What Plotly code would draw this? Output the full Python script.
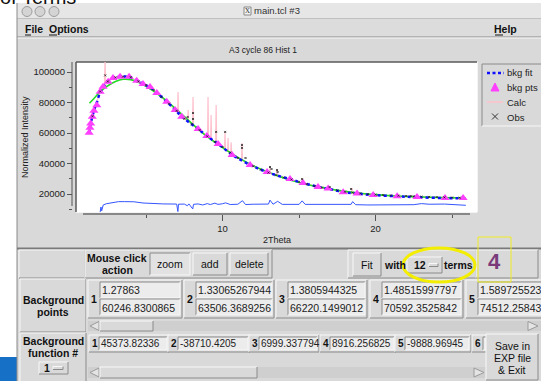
import plotly.graph_objects as go

# ---------------- data ----------------
bkg_pts_x = [1.279, 1.331, 1.381, 1.485, 1.590, 1.78, 2.00, 2.19, 2.52, 2.84, 3.30, 3.89, 4.39,
             4.80, 5.26, 5.70, 6.35, 6.90, 7.33, 8.40, 8.97, 9.71, 10.62, 11.80, 12.91, 14.41,
             15.26, 16.24, 16.90, 17.88, 18.79, 19.84, 21.41, 22.71, 24.54, 25.72]
bkg_pts_y = [60247, 63506, 66220, 70592, 74512, 78200, 87100, 90400, 93600, 96100, 96900, 96900, 94300,
             92100, 90200, 86200, 80500, 75100, 70700, 62600, 58000, 52800, 45500, 39000, 34400, 29800,
             27200, 24600, 23600, 21200, 20400, 19300, 18600, 18000, 17400, 17300]

bkg_fit_x = [1.279, 1.381, 1.590, 1.80, 2.00, 2.25, 2.52, 2.84, 3.30, 3.89, 4.39, 4.80, 5.26, 5.70,
             6.35, 6.90, 7.33, 8.00, 8.40, 8.97, 9.71, 10.62, 11.80, 12.91, 14.41, 15.26, 16.24,
             17.00, 17.88, 18.79, 19.84, 21.41, 22.71, 24.54, 25.90]
bkg_fit_y = [60200, 66200, 74500, 80500, 86800, 90800, 93700, 95900, 96900, 96800, 94400, 92200, 90000,
             86300, 80600, 75200, 70800, 65600, 62700, 58000, 52900, 45800, 39100, 34300, 29700, 27200,
             24700, 23200, 21300, 20300, 19300, 18500, 17900, 17300, 17100]

green_x = [1.30, 1.70, 2.00, 2.50, 3.00, 3.50, 4.00, 4.50, 5.00, 5.50, 6.00, 7.00, 8.00, 9.00, 10.00,
           11.00, 12.00, 13.00, 14.00, 15.00, 16.00, 17.00, 18.00, 19.00, 20.00, 21.00, 22.00, 23.00,
           24.00, 25.00, 25.90]
green_y = [79500, 83800, 87100, 91000, 93800, 95200, 95000, 93300, 90600, 87300, 83800, 75300, 66200,
           57600, 50400, 44000, 38600, 34200, 30500, 27600, 25200, 23300, 21700, 20500, 19600, 18900,
           18400, 18000, 17700, 17500, 17400]

calc_x = [1.28, 1.60, 2.00, 2.28, 2.32, 2.36, 2.80, 3.30, 3.90, 4.40, 5.00, 5.70, 6.35, 6.90,
          7.06, 7.09, 7.12, 7.33, 7.72, 7.75, 7.78, 8.04, 8.07, 8.10, 8.40, 8.97, 9.02, 9.05, 9.08,
          9.22, 9.25, 9.28, 9.55, 9.58, 9.61, 9.71, 10.13, 10.16, 10.19, 10.33, 10.36, 10.39,
          10.53, 10.56, 10.59, 11.24, 11.27, 11.30, 11.80, 12.90, 13.07, 13.10, 13.13, 13.53,
          13.56, 13.59, 14.40, 15.17, 15.20, 15.23, 16.20, 17.00, 17.90, 18.43, 18.46, 18.49,
          19.80, 21.40, 22.70, 24.50, 25.90]
calc_y = [60200, 74500, 87100, 91200, 108000, 91800, 96000, 96900, 96900, 94300, 91300, 86200, 80500, 75100,
          73800, 86900, 73400, 70700, 67800, 75100, 67400, 65300, 83600, 64900, 62600, 58000, 57600, 83600, 57300,
          56300, 71800, 55900, 53800, 78400, 53500, 52800, 49400, 60700, 49000, 47900, 56700, 47500,
          46500, 54000, 46200, 42200, 53400, 41900, 39000, 34400, 33800, 37700, 33600, 32100,
          36400, 31900, 29800, 27400, 30500, 27300, 24700, 23300, 21200, 20700, 23900, 20600,
          19300, 18700, 18000, 17400, 17200]

obs_x = [1.5, 2.0, 2.33, 2.5, 3.0, 3.5, 4.0, 4.5, 5.0, 5.5, 6.0, 6.5, 7.0, 7.5, 7.72, 8.0, 8.07, 8.07,
         8.5, 9.0, 9.5, 9.58, 10.0, 10.17, 10.5, 11.0, 11.27, 11.27, 11.5, 12.0, 12.5, 13.0, 13.1,
         13.2, 13.5, 13.56, 13.6, 14.0, 14.5, 15.0, 15.2, 15.5, 16.0, 16.5, 17.0, 17.5, 18.0, 18.4,
         18.5, 19.0, 19.5, 20.0, 20.5, 21.0, 21.5, 22.0, 22.3, 22.5, 23.0, 23.5, 24.0, 24.5, 25.0,
         25.5]
obs_y = [71000, 87200, 97800, 93800, 96500, 97000, 96600, 93900, 91400, 88200, 83800, 79200, 74500, 69300,
         70500, 65700, 73100, 69200, 61900, 57800, 54200, 60700, 50800, 60700, 47200, 43600, 52100, 50200,
         43600, 38200, 36000, 34000, 37700, 36400, 32300, 35700, 34400, 30800, 29500, 28000, 29800,
         26500, 25200, 24200, 24600, 22400, 21500, 23300, 20900, 20300, 19900, 19600, 19300, 19100,
         18900, 18700, 18700, 18500, 18300, 18100, 18000, 17800, 17700, 17600]

diff_x = [2.00, 2.05, 2.10, 2.20, 2.40, 2.80, 3.20, 3.60, 4.20, 4.80, 5.50, 6.10, 7.00, 7.08, 7.12, 7.50,
          7.70, 7.80, 8.05, 8.10, 8.40, 8.70, 9.00, 9.20, 9.50, 9.70, 10.00, 10.20, 10.50, 11.00, 11.30,
          11.50, 12.00, 13.00, 13.10, 13.30, 13.60, 13.90, 15.00, 15.20, 15.40, 16.50, 17.50, 18.40,
          18.50, 18.70, 19.50, 20.00, 21.00, 22.00, 22.50, 23.00, 23.50, 24.50, 25.30, 25.90]
diff_y = [8200, 11500, 9000, 12800, 13600, 14400, 15000, 15000, 14900, 14100, 13700, 13500, 13400, 8500,
          13300, 13400, 12300, 13500, 10200, 13200, 13500, 12800, 13700, 13100, 14000, 13200, 13600,
          14200, 13100, 13300, 15600, 13100, 13300, 13400, 16000, 13300, 15200, 13200, 13200, 15500,
          13200, 13100, 13000, 13200, 15000, 13000, 12800, 12900, 12800, 13100, 13000, 13700, 13300,
          13400, 13000, 12600]

x_range = [0.42, 26.63]
y_range = [8200, 106560]

legend_names = ["bkg fit", "bkg pts", "Calc", "Obs"]
point_x = ["1.27863", "1.33065267944", "1.3805944325", "1.48515997797", "1.589725523"]
point_y = ["60246.8300865", "63506.3689256", "66220.1499012", "70592.3525842", "74512.258437"]
func_terms = ["45373.82336", "-38710.4205", "6999.337794", "8916.256825", "-9888.96945"]

# ---------------- helpers (pixel -> paper) ----------------
W, H = 541, 381
BG = "#d9d9d9"
FONT = "Liberation Sans"


def X(p):
    return p / W


def Y(p):
    return 1 - p / H


shapes = []
annotations = []


def rect(x0, y0, x1, y1, fill=None, line=None, lw=1, layer="below"):
    shapes.append(dict(type="rect", xref="paper", yref="paper", x0=X(x0), x1=X(x1), y0=Y(y1), y1=Y(y0),
                       fillcolor=fill or "rgba(0,0,0,0)",
                       line=dict(color=line or "rgba(0,0,0,0)", width=lw if line else 0), layer=layer))


def seg(x0, y0, x1, y1, color, lw=1, dash="solid", layer="below"):
    shapes.append(dict(type="line", xref="paper", yref="paper", x0=X(x0), y0=Y(y0), x1=X(x1), y1=Y(y1),
                       line=dict(color=color, width=lw, dash=dash), layer=layer))


def poly(pts, fill, line=None, lw=1, layer="below"):
    d = "M " + " L ".join(f"{X(a):.5f},{Y(b):.5f}" for a, b in pts) + " Z"
    shapes.append(dict(type="path", xref="paper", yref="paper", path=d, fillcolor=fill,
                       line=dict(color=line or fill, width=lw), layer=layer))


def relief(x0, y0, x1, y1, raised=True, fill=BG):
    rect(x0, y0, x1, y1, fill=fill)
    lt, dk = ("#f8f8f8", "#8a8a8a") if raised else ("#8a8a8a", "#f8f8f8")
    seg(x0, y0, x1, y0, lt)
    seg(x0, y0, x0, y1, lt)
    seg(x0, y1, x1, y1, dk)
    seg(x1, y0, x1, y1, dk)


def text(x, y, s, size=10.5, bold=False, xanchor="left", color="#111", font=FONT, yanchor="middle"):
    if bold:
        s = "<b>" + s + "</b>"
    annotations.append(dict(xref="paper", yref="paper", x=X(x), y=Y(y), text=s, showarrow=False,
                            xanchor=xanchor, yanchor=yanchor, borderpad=0,
                            font=dict(size=size, color=color, family=font)))


# ---------------- window chrome ----------------
rect(0, 357, 17, 381, fill="#1670c6")
text(-1, 9, "of Terms", size=20, yanchor="bottom", color="#111")

rect(17, 3, 541, 381, fill=BG)
# title bar
rect(17, 3, 541, 19, fill="#e6e6e6")
seg(17, 19, 541, 19, "#9a9a9a")
for cx in (27, 40, 54):
    shapes.append(dict(type="circle", xref="paper", yref="paper", x0=X(cx - 5), x1=X(cx + 5),
                       y0=Y(16.5), y1=Y(6.5), fillcolor="#d4d4d4", line=dict(color="#9c9c9c", width=1),
                       layer="below"))
rect(244, 7, 251, 15, fill="#f4f4f4", line="#888")
text(247.5, 11, "X", size=7, xanchor="center", color="#333", font="DejaVu Serif")
text(253, 11, "main.tcl #3", size=9.5, color="#333")
# menu bar
rect(17, 19, 541, 37, fill="#dcdcdc")
seg(17, 37, 541, 37, "#8a8a8a")
seg(17, 38, 541, 38, "#f8f8f8")
text(24, 29, "File", size=10.5, bold=True)
text(48, 29, "Options", size=10.5, bold=True)
text(518, 29, "Help", size=10.5, bold=True, xanchor="right")
seg(25, 35, 31, 35, "#111")
seg(49, 35, 57, 35, "#111")
seg(495, 35, 503, 35, "#111")
seg(17, 3, 17, 381, "#8a8a8a")

# graph frame
text(263, 50, "A3 cycle 86 Hist 1", size=8.5, xanchor="center", color="#222")
rect(76, 62, 477, 212, fill="white")
seg(76, 62, 477, 62, "#5a5a5a", lw=1.5)
seg(76, 62, 76, 212, "#5a5a5a", lw=1.5)
seg(76, 212.5, 477, 212.5, "#f4f4f4")
seg(477.5, 62, 477.5, 212, "#f4f4f4")
seg(83, 214, 470, 214, "#888888", lw=2)
seg(72, 62, 72, 206, "#555555", lw=1)
text(277, 240, "2Theta", size=9, xanchor="center", color="#222")
annotations.append(dict(xref="paper", yref="paper", x=X(25), y=Y(137), text="Normalized Intensity",
                        showarrow=False, textangle=-90, xanchor="center", yanchor="middle",
                        font=dict(size=9, color="#222", family=FONT)))

# legend box (manual, Tk style)
relief(482, 64, 545, 126, raised=False)
seg(487, 73, 504, 73, "#1010ff", lw=2.5, dash="3px,2.5px")
poly([(491, 91), (499, 91), (495, 83)], "#ff40ff")
seg(487, 102, 503, 102, "#ffc0cb", lw=1.5)
seg(492, 113.5, 498, 119.5, "#333", lw=1)
seg(492, 119.5, 498, 113.5, "#333", lw=1)
for i, nm in enumerate(legend_names):
    text(506, 73 + i * 14.7, nm, size=9.5, color="#222")

# ---------------- control panel ----------------
seg(17, 248.5, 541, 248.5, "#7a7a7a", lw=2)
# row 1
relief(19, 250, 85, 278)
relief(85, 250, 272, 278)
text(117, 258, "Mouse click", size=10.5, bold=True, xanchor="center")
text(117, 270, "action", size=10.5, bold=True, xanchor="center")
relief(150, 253, 190, 275, raised=False, fill="#e2e2e2")
text(170, 264, "zoom", size=10.5, xanchor="center")
relief(193, 253, 227, 275)
text(210, 264, "add", size=10.5, xanchor="center")
relief(230, 253, 268, 275)
text(249, 264, "delete", size=10.5, xanchor="center")
relief(348, 250, 476, 278)
relief(353, 253, 381, 276)
text(367, 264.5, "Fit", size=10.5, xanchor="center")
text(383, 264.5, "with", size=10.5, bold=True)
relief(407, 257, 442, 273)
text(413, 265, "12", size=10.5, bold=True)
relief(429, 263.5, 438, 266.5)
text(443, 264.5, "terms", size=10.5, bold=True)
relief(476, 250, 538, 278)
shapes.append(dict(type="circle", xref="paper", yref="paper", x0=X(403), x1=X(475), y0=Y(282), y1=Y(248),
                   line=dict(color="#f3ee00", width=3), layer="above"))
rect(478, 237, 511, 282, line="#f0ec20", lw=1, layer="above")
text(494, 261, "4", size=22, bold=True, xanchor="center", color="#7a3a7a")

# row 2 : background points
relief(20, 279, 86, 332)
text(53, 300, "Background", size=10.5, bold=True, xanchor="center")
text(53, 312, "points", size=10.5, bold=True, xanchor="center")
rect(86, 279, 541, 332, fill=BG)
cells = [(88, 182), (184, 274), (276, 367), (370, 463), (466, 560)]
for i, (c0, c1) in enumerate(cells):
    relief(c0, 280, c1, 318)
    text(c0 + 2, 299, str(i + 1), size=10.5, bold=True)
    relief(c0 + 12, 282, c1 - 2, 298, raised=False, fill="#ececec")
    relief(c0 + 12, 299, c1 - 2, 315, raised=False, fill="#ececec")
    text(c0 + 13, 290, point_x[i], size=10.5, color="#222")
    text(c0 + 13, 307.5, point_y[i], size=10.5, color="#222")
rect(88, 321, 541, 331, fill="#cfcfcf")
poly([(90, 326), (99, 321.5), (99, 330.5)], "#e4e4e4", "#9a9a9a")
relief(100, 321, 153, 331)
poly([(538, 326), (528, 321.5), (528, 330.5)], "#e4e4e4", "#9a9a9a")

# row 3 : background function
relief(20, 333, 86, 383)
text(53, 341, "Background", size=10.5, bold=True, xanchor="center")
text(53, 353, "function #", size=10.5, bold=True, xanchor="center")
relief(39, 362, 68, 374)
text(43, 368, "1", size=10.5, bold=True)
relief(53, 366.5, 63, 369.5)
fcells = [(89, 99, 167), (168, 178, 248), (249, 259, 317), (320, 330, 394), (395, 405, 469), (472, 483, 520)]
for i, (c0, e0, e1) in enumerate(fcells):
    relief(c0, 335, e1 + 2, 352)
    text(c0 + 2, 343.5, str(i + 1), size=10, bold=True)
    relief(e0, 337, e1, 350, raised=False, fill="#ececec")
    if i < len(func_terms):
        text(e0 + 1, 343.5, func_terms[i], size=10, color="#222")
rect(88, 367, 486, 378, fill="#cfcfcf")
poly([(90, 372.5), (99, 368), (99, 377)], "#e4e4e4", "#9a9a9a")
relief(100, 367, 257, 378)
poly([(484, 372.5), (474, 368), (474, 377)], "#e4e4e4", "#9a9a9a")
relief(486, 334, 538, 380)
text(512, 346, "Save in", size=10.5, xanchor="center")
text(512, 358, "EXP file", size=10.5, xanchor="center")
text(512, 370, "&amp; Exit", size=10.5, xanchor="center")

# ---------------- traces ----------------
fig = go.Figure()
fig.add_trace(go.Scatter(x=calc_x, y=calc_y, mode="lines", name="Calc",
                         line=dict(color="#ffbfcc", width=1.2)))
fig.add_trace(go.Scatter(x=green_x, y=green_y, mode="lines", name="fit",
                         line=dict(color="#22dd22", width=1.6, shape="spline")))
fig.add_trace(go.Scatter(x=bkg_fit_x, y=bkg_fit_y, mode="lines", name="bkg fit",
                         line=dict(color="#1010ff", width=2.5, dash="dot", shape="spline")))
fig.add_trace(go.Scatter(x=bkg_pts_x, y=bkg_pts_y, mode="markers", name="bkg pts",
                         marker=dict(symbol="triangle-up", size=8, color="#ff40ff", line=dict(width=0))))
fig.add_trace(go.Scatter(x=obs_x, y=obs_y, mode="markers", name="Obs",
                         marker=dict(symbol="x-thin", size=2, color="#222", line=dict(width=0.8, color="#222"))))
fig.add_trace(go.Scatter(x=diff_x, y=diff_y, mode="lines", name="diff",
                         line=dict(color="#3355ff", width=1)))

fig.update_layout(
    width=W, height=H, margin=dict(l=0, r=0, t=0, b=0),
    paper_bgcolor="white", plot_bgcolor="rgba(0,0,0,0)", showlegend=False,
    shapes=shapes, annotations=annotations,
    xaxis=dict(domain=[X(76), X(477)], range=x_range, anchor="free", position=Y(214),
               showgrid=False, zeroline=False, showline=False, ticks="outside", ticklen=6,
               tickcolor="#555", tickwidth=1, dtick=10, tick0=0,
               tickfont=dict(size=9.5, family=FONT, color="#222"),
               minor=dict(dtick=5, tick0=0, ticks="outside", ticklen=3, tickcolor="#555")),
    yaxis=dict(domain=[Y(212), Y(62)], range=y_range, anchor="free", position=X(72),
               showgrid=False, zeroline=False, showline=False, ticks="outside", ticklen=5,
               tickcolor="#555", tickwidth=1, dtick=20000, tick0=0, tickformat="d",
               tickfont=dict(size=9.5, family=FONT, color="#222"),
               minor=dict(dtick=10000, tick0=0, ticks="outside", ticklen=3, tickcolor="#555")),
)

fig.write_html("out.html", config={"displayModeBar": False},
               post_script="document.body.style.margin='0';document.body.style.overflow='hidden';")
